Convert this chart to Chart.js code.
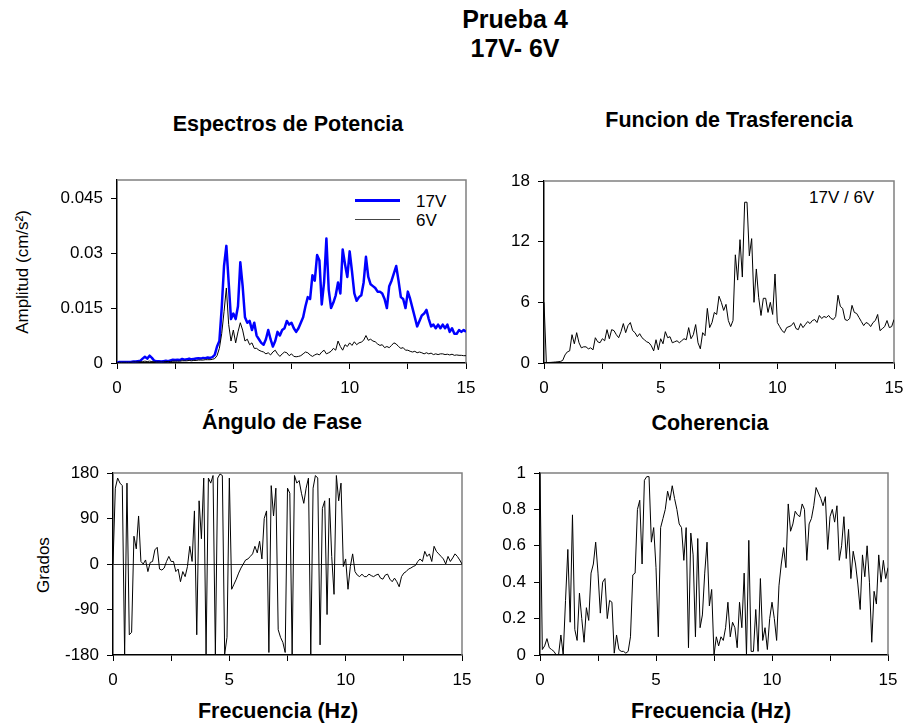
<!DOCTYPE html>
<html>
<head>
<meta charset="utf-8">
<script src="https://cdn.jsdelivr.net/npm/chart.js@4.4.0/dist/chart.umd.min.js"></script>
<style>
  body { margin: 0; width: 903px; height: 723px; background: #fff; position: relative; overflow: hidden;
         font-family: "Liberation Sans", Arial, sans-serif; color: #000; }
  canvas { position: absolute; }
  .t { position: absolute; font-weight: bold; white-space: nowrap; transform: translateX(-50%); line-height: 1; }
  .lbl { position: absolute; white-space: nowrap; line-height: 1; font-size: 17px; }
  .rot { position: absolute; white-space: nowrap; line-height: 1; font-size: 17px; transform: translate(-50%, -50%) rotate(-90deg); }
  .leg { position: absolute; height: 0; }
</style>
</head>
<body>
<div class="t" style="left:515px; top:7px; font-size:25px;">Prueba 4</div>
<div class="t" style="left:515px; top:36px; font-size:25px;">17V- 6V</div>
<div class="t" style="left:288px; top:114px; font-size:21.5px;">Espectros de Potencia</div>
<div class="t" style="left:729px; top:110px; font-size:21.5px;">Funcion de Trasferencia</div>
<div class="t" style="left:282px; top:412px; font-size:21.5px;">Ángulo de Fase</div>
<div class="t" style="left:710px; top:413px; font-size:21.5px;">Coherencia</div>
<div class="t" style="left:278px; top:701px; font-size:21.5px;">Frecuencia (Hz)</div>
<div class="t" style="left:711px; top:701px; font-size:21.5px;">Frecuencia (Hz)</div>
<div class="rot" style="left:22px; top:272px;">Amplitud (cm/s²)</div>
<div class="rot" style="left:43px; top:565px;">Grados</div>
<div class="leg" style="left:355px; top:199px; width:45px; border-top:3px solid #0000ff;"></div>
<div class="leg" style="left:355px; top:219px; width:45px; border-top:1px solid #444;"></div>
<div class="lbl" style="left:416px; top:193px;">17V</div>
<div class="lbl" style="left:416px; top:212px;">6V</div>
<div class="lbl" style="left:809px; top:189px;">17V / 6V</div>

<canvas id="c1"></canvas>
<canvas id="c2"></canvas>
<canvas id="c3"></canvas>
<canvas id="c4"></canvas>

<script>
(function(){
  'use strict';

  // frecuencia (Hz), paso 0.1
  const freq = [
    0,0.1,0.2,0.3,0.4,0.5,0.6,0.7,0.8,0.9,1,1.1,1.2,1.3,1.4,1.5,1.6,1.7,1.8,1.9,
    2,2.1,2.2,2.3,2.4,2.5,2.6,2.7,2.8,2.9,3,3.1,3.2,3.3,3.4,3.5,3.6,3.7,3.8,3.9,
    4,4.1,4.2,4.3,4.4,4.5,4.6,4.7,4.8,4.9,5,5.1,5.2,5.3,5.4,5.5,5.6,5.7,5.8,5.9,
    6,6.1,6.2,6.3,6.4,6.5,6.6,6.7,6.8,6.9,7,7.1,7.2,7.3,7.4,7.5,7.6,7.7,7.8,7.9,
    8,8.1,8.2,8.3,8.4,8.5,8.6,8.7,8.8,8.9,9,9.1,9.2,9.3,9.4,9.5,9.6,9.7,9.8,9.9,
    10,10.1,10.2,10.3,10.4,10.5,10.6,10.7,10.8,10.9,11,11.1,11.2,11.3,11.4,11.5,11.6,11.7,11.8,11.9,
    12,12.1,12.2,12.3,12.4,12.5,12.6,12.7,12.8,12.9,13,13.1,13.2,13.3,13.4,13.5,13.6,13.7,13.8,13.9,
    14,14.1,14.2,14.3,14.4,14.5,14.6,14.7,14.8,14.9,15
  ];

  // Espectros de potencia (cm/s2)
  const amp17V = [
    0,0.0003,0.0003,0.0003,0.0003,0.0003,0.0003,0.0004,0.0004,0.0005,
    0.0006,0.0012,0.0017,0.0012,0.002,0.0014,0.0006,0.0005,0.0005,0.0004,
    0.0005,0.0006,0.0005,0.0007,0.0009,0.0008,0.0009,0.0008,0.0011,0.0009,
    0.001,0.0012,0.001,0.0011,0.0012,0.0013,0.0012,0.0014,0.0013,0.0015,
    0.0014,0.0016,0.0022,0.0045,0.006,0.015,0.0265,0.032,0.022,0.012,
    0.0135,0.012,0.0155,0.0275,0.021,0.0125,0.011,0.0115,0.009,0.011,
    0.0075,0.0065,0.0055,0.005,0.0065,0.009,0.0065,0.0045,0.006,0.0085,
    0.0075,0.009,0.0095,0.0115,0.0105,0.011,0.0095,0.0085,0.0095,0.011,
    0.0125,0.0155,0.018,0.0175,0.024,0.0225,0.0295,0.028,0.016,0.022,
    0.034,0.02,0.015,0.0165,0.0185,0.022,0.019,0.031,0.027,0.0235,
    0.0305,0.025,0.019,0.017,0.018,0.0185,0.022,0.029,0.0235,0.0215,
    0.021,0.0205,0.0195,0.0195,0.019,0.0175,0.015,0.021,0.0225,0.0245,
    0.0265,0.0225,0.018,0.0175,0.015,0.0195,0.0175,0.015,0.0125,0.01,
    0.0115,0.013,0.0135,0.0145,0.012,0.01,0.0105,0.0095,0.0105,0.0095,
    0.0105,0.0095,0.0105,0.0085,0.0095,0.008,0.008,0.009,0.0085,0.009,0.0085
  ];
  const amp6V = [
    0,0.0002,0.0002,0.0002,0.0002,0.0002,0.0002,0.0003,0.0003,0.0003,
    0.0003,0.0004,0.0005,0.0004,0.0005,0.0004,0.0003,0.0003,0.0003,0.0003,
    0.0003,0.0004,0.0004,0.0004,0.0005,0.0005,0.0005,0.0005,0.0006,0.0006,
    0.0006,0.0007,0.0006,0.0007,0.0007,0.0008,0.0008,0.0008,0.0009,0.0009,
    0.0009,0.001,0.0012,0.002,0.004,0.008,0.014,0.0205,0.0105,0.006,
    0.009,0.0055,0.0085,0.011,0.009,0.006,0.0065,0.005,0.0055,0.004,
    0.004,0.0035,0.0032,0.003,0.0025,0.0028,0.0022,0.003,0.0035,0.0025,
    0.0018,0.0025,0.003,0.0028,0.002,0.0025,0.0018,0.0017,0.0018,0.002,
    0.0025,0.003,0.0028,0.0022,0.0018,0.0022,0.0025,0.0022,0.003,0.0035,
    0.0025,0.0028,0.0032,0.004,0.0035,0.006,0.0045,0.0035,0.005,0.0045,
    0.0055,0.0048,0.0058,0.005,0.0055,0.0057,0.0062,0.0075,0.0062,0.0065,
    0.006,0.0058,0.0052,0.0048,0.005,0.0042,0.0045,0.0042,0.0048,0.0055,
    0.0052,0.0045,0.004,0.0042,0.0035,0.0035,0.0032,0.003,0.0032,0.0028,
    0.003,0.0028,0.0025,0.0028,0.0025,0.0027,0.0023,0.0025,0.0023,0.0025,
    0.0025,0.0023,0.0024,0.0022,0.0024,0.0021,0.0022,0.0021,0.0021,0.002,0.002
  ];

  // Funcion de trasferencia 17V / 6V
  const transfer = [
    6,0.05,0.05,0.06,0.08,0.1,0.12,0.15,0.25,0.8,
    1.1,1.2,2.8,1.9,3,2,1.5,1.6,1.6,1.4,
    1.5,1.3,2.5,2.1,2,2.4,2.2,3.3,2.4,3.3,
    3.2,2.8,2.5,3.1,3.9,3,3.7,4,3.2,3,
    2.6,2.9,2.5,2.3,2.1,2,1.7,1.2,2.3,1.3,
    2.4,1.9,3.1,2.5,2.6,2,2.1,2.2,2,2.2,
    2.4,2.3,3.5,2.4,2.8,3.8,2,1.4,3,2.7,
    5.4,3.5,4,5,4.8,6.6,6,5.2,5.8,4.2,
    3.6,4.2,10.7,8.2,12.2,8.5,15.9,15.9,10.6,12.3,
    6,9.3,6.5,4.7,6.4,6.4,5,6,4.8,8.8,
    4,3.6,3.2,3,3.5,3.6,3.7,4,3.4,3.3,
    3.9,3.5,3.8,4.1,3.9,4.2,4.3,4,4.7,4.4,
    4.6,4.5,4.7,4.4,4.3,4.6,6.7,5.6,5.4,4.3,
    4.2,4.4,5.7,5,4.9,4.5,4.1,3.7,4,3.9,
    3.6,4,4.2,4.8,3.2,3.4,3.6,4.2,3.5,3.6,4.3
  ];

  // Angulo de fase (grados)
  const phase = [
    0,150,170,160,155,-180,160,-140,-135,55,
    30,95,5,0,8,-15,3,5,28,33,
    -10,-12,-8,5,15,5,5,-15,-10,-35,
    -15,-25,-5,35,5,105,-140,125,50,170,
    -178,170,160,175,-178,170,178,175,-178,-145,
    170,-50,-40,-30,-18,-8,0,8,10,15,
    20,35,22,45,10,90,105,-175,155,95,
    150,-130,-145,-155,-175,150,140,-180,175,160,
    165,140,120,150,170,-180,150,175,170,-160,
    110,125,-100,130,15,-60,175,125,160,-5,
    10,-50,-5,20,-15,-22,-25,-20,-25,-25,
    -20,-23,-25,-22,-20,-28,-30,-22,-20,-30,
    -35,-28,-35,-45,-25,-18,-15,-10,-8,-5,
    -3,5,10,5,25,15,20,5,35,25,
    20,15,10,0,15,5,12,20,15,8,0
  ];

  // Coherencia
  const coherence = [
    1,0.03,0.05,0.09,0.04,0.03,0.02,0,0,0.11,
    0,0.3,0.58,0.18,0.77,0.14,0.08,0.34,0.2,0.07,
    0.26,0.19,0.45,0.5,0.62,0.45,0.23,0.4,0.42,0.2,
    0.3,0.29,0.01,0.11,0.03,0.02,0.02,0.01,0.02,0.1,
    0.44,0.45,0.8,0.85,0.5,0.96,0.98,0.98,0.62,0.7,
    0.48,0.1,0.7,0.75,0.8,0.9,0.85,0.93,0.86,0.8,
    0.72,0.7,0.52,0.7,0.04,0.67,0.55,0.1,0.64,0.15,
    0.22,0.45,0.62,0.27,0.36,0,0.1,0.05,0.1,0.08,
    0.15,0.29,0.1,0.18,0.15,0.04,0.29,0.15,0.45,0,
    0.63,0.02,0.02,0.25,0.02,0.42,0.08,0.15,0.03,0.2,
    0.29,0.2,0.08,0.38,0.5,0.59,0.48,0.83,0.68,0.72,
    0.79,0.77,0.76,0.83,0.8,0.52,0.72,0.75,0.82,0.92,
    0.89,0.86,0.82,0.87,0.58,0.76,0.8,0.73,0.82,0.52,
    0.6,0.76,0.53,0.69,0.42,0.57,0.5,0.39,0.25,0.55,
    0.43,0.6,0.4,0.07,0.35,0.28,0.55,0.4,0.52,0.42,0.48
  ];

  const xTicks = [0, 5, 10, 15];
  const ampTicks = [0, 0.015, 0.03, 0.045];
  const transferTicks = [0, 6, 12, 18];
  const phaseTicks = [-180, -90, 0, 90, 180];
  const coherenceTicks = [0, 0.2, 0.4, 0.6, 0.8, 1];

  const Y_AXIS_W = 80;
  const X_AXIS_H = 40;
  const PAD_TOP = 24;
  const PAD_RIGHT = 24;
  const TICK_FONT = { family: '"Liberation Sans", Arial, sans-serif', size: 17 };

  const framePlugin = {
    id: 'frame',
    beforeDatasetsDraw(chart, args, opts) {
      const { ctx, chartArea: a } = chart;
      ctx.save();
      ctx.lineWidth = 1.5;
      ctx.strokeStyle = '#808080';
      ctx.beginPath();
      ctx.moveTo(a.left, a.top);
      ctx.lineTo(a.right, a.top);
      ctx.lineTo(a.right, a.bottom);
      ctx.stroke();
      if (opts.zeroLine) {
        const y = Math.round(chart.scales.y.getPixelForValue(0)) + 0.5;
        ctx.lineWidth = 1;
        ctx.strokeStyle = '#333';
        ctx.beginPath();
        ctx.moveTo(a.left, y);
        ctx.lineTo(a.right, y);
        ctx.stroke();
      }
      ctx.restore();
    }
  };

  function series(vals) {
    return freq.map((f, i) => ({ x: f, y: vals[i] }));
  }

  function makePanel(id, rect, datasets, yOpts, zeroLine) {
    const canvas = document.getElementById(id);
    const plotW = rect.right - rect.left;
    const plotH = rect.bottom - rect.top;
    let w = plotW + Y_AXIS_W + PAD_RIGHT;
    let h = plotH + X_AXIS_H + PAD_TOP;
    canvas.width = w;
    canvas.height = h;
    canvas.style.width = w + 'px';
    canvas.style.height = h + 'px';

    const chart = new Chart(canvas.getContext('2d'), {
      type: 'line',
      data: { datasets },
      options: {
        responsive: false,
        devicePixelRatio: 1,
        animation: false,
        events: [],
        layout: { padding: { top: PAD_TOP, right: PAD_RIGHT, left: 0, bottom: 0 } },
        plugins: { legend: { display: false }, tooltip: { enabled: false }, frame: { zeroLine } },
        elements: { point: { radius: 0 }, line: { tension: 0, borderJoinStyle: 'round' } },
        scales: {
          x: {
            type: 'linear', min: 0, max: 15,
            afterFit: (s) => { s.height = X_AXIS_H; },
            afterBuildTicks: (s) => {
              s.ticks = [0, 2.5, 5, 7.5, 10, 12.5, 15].map((v) => ({ value: v }));
            },
            ticks: {
              autoSkip: false, maxRotation: 0, color: '#000', font: TICK_FONT, padding: 9,
              callback: (v) => (xTicks.includes(v) ? String(v) : '')
            },
            grid: { drawOnChartArea: false, drawTicks: true, tickLength: 6, color: '#000', lineWidth: 1 },
            border: { color: '#000', width: 1.5 }
          },
          y: {
            type: 'linear', min: yOpts.min, max: yOpts.max,
            afterFit: (s) => { s.width = Y_AXIS_W; },
            afterBuildTicks: (s) => { s.ticks = yOpts.ticks.map((v) => ({ value: v })); },
            ticks: { autoSkip: false, color: '#000', font: TICK_FONT, padding: 8, callback: (v) => String(v) },
            grid: { drawOnChartArea: false, drawTicks: true, tickLength: 6, color: '#000', lineWidth: 1 },
            border: { color: '#000', width: 1.5 }
          }
        }
      },
      plugins: [framePlugin]
    });

    // ajustar el lienzo para que el area de datos caiga justo sobre rect
    const a = chart.chartArea;
    const dw = plotW - (a.right - a.left);
    const dh = plotH - (a.bottom - a.top);
    if (dw !== 0 || dh !== 0) {
      w += dw;
      h += dh;
      canvas.style.width = w + 'px';
      canvas.style.height = h + 'px';
      chart.resize(w, h);
    }
    const b = chart.chartArea;
    canvas.style.left = (rect.left - b.left) + 'px';
    canvas.style.top = (rect.top - b.top) + 'px';
  }

  makePanel('c1', { left: 117, right: 466, top: 180, bottom: 363 }, [
    { data: series(amp6V), borderColor: '#000', borderWidth: 1 },
    { data: series(amp17V), borderColor: '#0000ff', borderWidth: 2.5 }
  ], { min: 0, max: 0.05, ticks: ampTicks });

  makePanel('c2', { left: 544, right: 894, top: 181, bottom: 363 }, [
    { data: series(transfer), borderColor: '#000', borderWidth: 1 }
  ], { min: 0, max: 18, ticks: transferTicks });

  makePanel('c3', { left: 113, right: 462, top: 473, bottom: 655 }, [
    { data: series(phase), borderColor: '#000', borderWidth: 1 }
  ], { min: -180, max: 180, ticks: phaseTicks }, true);

  makePanel('c4', { left: 540, right: 888, top: 473, bottom: 655 }, [
    { data: series(coherence), borderColor: '#000', borderWidth: 1 }
  ], { min: 0, max: 1, ticks: coherenceTicks });
})();
</script>
</body>
</html>
